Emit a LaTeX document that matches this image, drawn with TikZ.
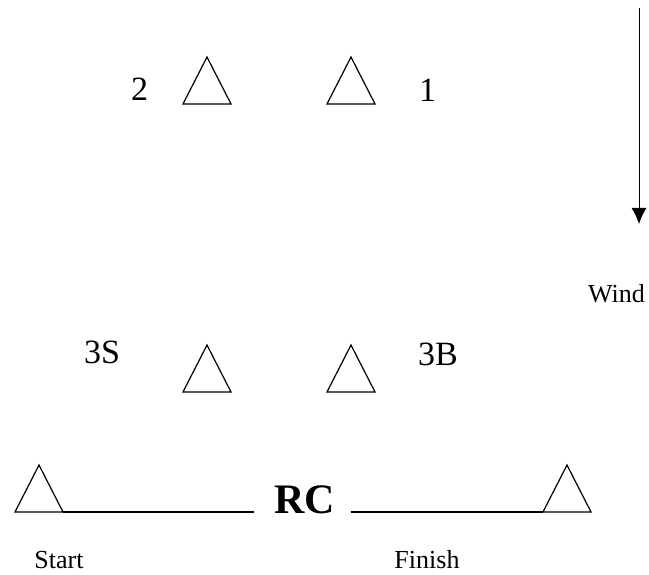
\documentclass[tikz,border=0pt]{standalone}
\usepackage{fontspec}
\setmainfont{Liberation Serif}
\usetikzlibrary{arrows.meta}
\tikzset{
  buoy/.pic={
    \draw[line width=1.2pt, line join=miter] (-24,0) -- (0,-47) -- (24,0) -- cycle;
    \coordinate (-l) at (-24,0);
    \coordinate (-r) at (24,0);
  },
  bigtext/.style={anchor=base, inner sep=0pt, font=\fontsize{34}{40}\selectfont},
  smalltext/.style={anchor=base, inner sep=0pt, font=\fontsize{26}{30}\selectfont},
}
\begin{document}
\begin{tikzpicture}[x=1pt, y=-1pt, >=Latex]
  \useasboundingbox (0,0) rectangle (649,575);
  % marks 1 and 2
  \pic (m2) at (207,104) {buoy};
  \pic (m1) at (351,104) {buoy};
  \node[bigtext] (l2) at (139.5,101) {2};
  \node[bigtext] (l1) at (427.5,102) {1};
  % gate 3
  \pic (m3s) at (207,392) {buoy};
  \pic (m3b) at (351,392) {buoy};
  \node[bigtext] (l3s) at (102,363) {3S};
  \node[bigtext] (l3b) at (438,365) {3B};
  % start / finish line
  \pic (start) at (39,512) {buoy};
  \pic (finish) at (567,512) {buoy};
  \node[bigtext, font=\fontsize{42}{48}\selectfont\bfseries] (rc) at (305,513) {RC};
  \draw[line width=1.2pt] (start-r) -- ([xshift=-20pt]rc.west |- start-r);
  \draw[line width=1.2pt] ([xshift=15pt]rc.east |- finish-l) -- (finish-l);
  \node[smalltext] (lstart) at (59,568) {Start};
  \node[smalltext] (lfinish) at (427,568) {Finish};
  % wind
  \coordinate (windtop) at (639,8);
  \coordinate (windtip) at (639,224);
  \draw[line width=1pt, -{Latex[length=16pt,width=15pt]}] (windtop) -- (windtip);
  \node[smalltext] (lwind) at (616.5,302) {Wind};
\end{tikzpicture}
\end{document}
